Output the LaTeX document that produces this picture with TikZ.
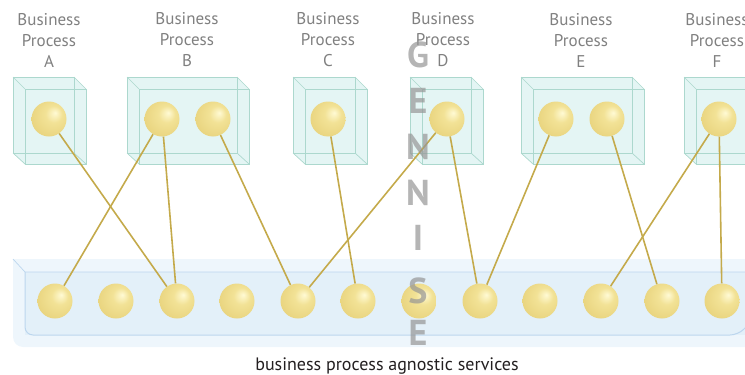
\documentclass[tikz,border=0pt]{standalone}
\usepackage{fontspec}
\setmainfont{PT Sans}
\usepackage{tikz}
\usetikzlibrary{shapes.geometric, arrows}

\definecolor{labelgray}{RGB}{128,128,128}
\definecolor{textdark}{RGB}{35,31,32}
\definecolor{wire}{RGB}{196,170,75}
\definecolor{glassfill}{RGB}{228,245,244}
\definecolor{glassedge}{RGB}{172,216,206}
\definecolor{barfill}{RGB}{227,240,249}
\definecolor{barlight}{RGB}{238,246,252}
\definecolor{baredge}{RGB}{188,214,238}
\definecolor{markgray}{RGB}{150,150,150}
\definecolor{ballhi}{RGB}{255,250,212}
\definecolor{ballmid}{RGB}{242,226,150}
\definecolor{ballbase}{RGB}{230,208,120}
\definecolor{ballrim}{RGB}{224,198,106}
\pgfdeclareradialshading{goldball}{\pgfpoint{9bp}{9bp}}{color(0bp)=(ballhi); color(12bp)=(ballmid); color(36bp)=(ballbase); color(50bp)=(ballrim)}

\tikzstyle{process} = [align=center, text=labelgray,
    font=\fontsize{17}{21}\selectfont]
\tikzstyle{caption} = [text=textdark, font=\fontsize{18}{21}\selectfont]
\tikzstyle{ball} = [circle, minimum size=35pt, inner sep=0pt, shading=goldball]
\tikzstyle{line} = [draw=wire, line width=1.6pt]
\tikzstyle{glassline} = [draw=glassedge, line width=0.7pt]
\tikzstyle{watermark} = [text=markgray, text opacity=0.7,
    font=\fontsize{36}{36}\bfseries\selectfont]

% glass cube: back left x, back right x
\newcommand{\procbox}[2]{%
    \fill [glassfill] (#1,77) -- (#2,77) -- ({#2+12},89) -- ({#2+12},164)
        -- ({#1+12},164) -- (#1,153) -- cycle;
    \draw [glassline] (#1,77) rectangle (#2,153);
    \draw [glassline] ({#1+12},89) rectangle ({#2+12},164);
    \draw [glassline] (#1,77) -- ({#1+12},89) (#2,77) -- ({#2+12},89)
        (#1,153) -- ({#1+12},164) (#2,153) -- ({#2+12},164);
}

\begin{document}
\begin{tikzpicture}[x=1pt, y=-1pt]
                \useasboundingbox (0,0) rectangle (745,375);
                % process containers
                \procbox{13}{74}
                \procbox{127}{237}
                \procbox{293}{355}
                \procbox{410}{471}
                \procbox{521}{632}
                \procbox{684}{800}
                % service layer
                \fill [barlight] (760,259) -- (13,259) [rounded corners=10pt] -- (13,347) [sharp corners] -- (760,347) -- cycle;
                \fill [barfill] (25,272) rectangle (760,335);
                \draw [baredge, line width=0.7pt] (13,259) -- (25,272) -- (760,272);
                \draw [baredge, line width=1pt, rounded corners=8pt] (25,272) -- (25,335) -- (738,335) -- (746,327);
                \node [process] at (49,40) (lblA) {Business\\Process\\A};
                \node [process] at (187,40) (lblB) {Business\\Process\\B};
                \node [process] at (328,40) (lblC) {Business\\Process\\C};
                \node [process] at (443,40) (lblD) {Business\\Process\\D};
                \node [process] at (581,40) (lblE) {Business\\Process\\E};
                \node [process] at (717,40) (lblF) {Business\\Process\\F};
                \node [ball] at (49,119) (a) {};
                \node [ball] at (162,119) (b1) {};
                \node [ball] at (213,119) (b2) {};
                \node [ball] at (328,119) (c) {};
                \node [ball] at (447,119) (d) {};
                \node [ball] at (556,119) (e1) {};
                \node [ball] at (607,119) (e2) {};
                \node [ball] at (719,119) (f) {};
                \node [ball] at (55,301) (s0) {};
                \node [ball] at (116,301) (s1) {};
                \node [ball] at (177,301) (s2) {};
                \node [ball] at (237,301) (s3) {};
                \node [ball] at (298,301) (s4) {};
                \node [ball] at (358,301) (s5) {};
                \node [ball] at (419,301) (s6) {};
                \node [ball] at (480,301) (s7) {};
                \node [ball] at (540,301) (s8) {};
                \node [ball] at (601,301) (s9) {};
                \node [ball] at (662,301) (s10) {};
                \node [ball] at (722,301) (s11) {};
                \path [line] (a) -- (s2);
                \path [line] (b1) -- (s0);
                \path [line] (b1) -- (s2);
                \path [line] (b2) -- (s4);
                \path [line] (c) -- (s5);
                \path [line] (d) -- (s4);
                \path [line] (d) -- (s7);
                \path [line] (e1) -- (s7);
                \path [line] (e2) -- (s10);
                \path [line] (f) -- (s9);
                \path [line] (f) -- (s11);
                \node [caption] at (387,366) (services) {business process agnostic services};
                \node [watermark] at (418,55) (w1) {G};
                \node [watermark] at (418,101) (w2) {E};
                \node [watermark] at (418,147) (w3) {N};
                \node [watermark] at (418,193) (w4) {N};
                \node [watermark] at (418,238) (w5) {I};
                \node [watermark] at (418,291) (w6) {S};
                \node [watermark] at (418,333) (w7) {E};
            \end{tikzpicture}
\end{document}
